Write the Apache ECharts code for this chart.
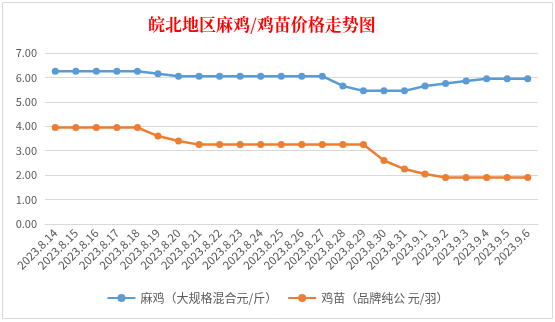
<!DOCTYPE html>
<html><head><meta charset="utf-8">
<script src="https://cdn.jsdelivr.net/npm/echarts@6/dist/echarts.min.js"></script>
<style>html,body{margin:0;padding:0;background:#fff}#c{width:555px;height:322px}</style>
</head><body><div id="c"></div>
<script>
const categories = ['2023.8.14','2023.8.15','2023.8.16','2023.8.17','2023.8.18','2023.8.19','2023.8.20','2023.8.21','2023.8.22','2023.8.23','2023.8.24','2023.8.25','2023.8.26','2023.8.27','2023.8.28','2023.8.29','2023.8.30','2023.8.31','2023.9.1','2023.9.2','2023.9.3','2023.9.4','2023.9.5','2023.9.6'];
const majiPrice = [6.25,6.25,6.25,6.25,6.25,6.15,6.05,6.05,6.05,6.05,6.05,6.05,6.05,6.05,5.65,5.45,5.45,5.45,5.65,5.75,5.85,5.95,5.95,5.95];
const jimiaoPrice = [3.95,3.95,3.95,3.95,3.95,3.6,3.4,3.25,3.25,3.25,3.25,3.25,3.25,3.25,3.25,3.25,2.6,2.25,2.05,1.9,1.9,1.9,1.9,1.9];
const seriesNames = ['麻鸡（大规格混合元/斤）','鸡苗（品牌纯公 元/羽）'];

const chart = echarts.init(document.getElementById('c'));
const font = '"Microsoft YaHei","Noto Sans CJK SC","Noto Sans",sans-serif';
chart.setOption({
  animation: false,
  backgroundColor: '#fff',
  title: {
    text: '皖北地区麻鸡/鸡苗价格走势图',
    left: 143, top: 11,
    textStyle: {color: '#ff0000', fontSize: 17, fontWeight: 'bold', fontFamily: '"Noto Serif CJK SC","Noto Sans CJK SC",serif'}
  },
  graphic: [{type:'rect', shape:{x:2.5,y:2.5,width:550,height:316}, style:{fill:'none',stroke:'#d9d9d9',lineWidth:1}, silent:true}],
  grid: {left: 45, right: 17, top: 53, bottom: 98},
  legend: {
    bottom: 13, left: 'center', itemWidth: 28, itemHeight: 10, itemGap: 10,
    textStyle: {color: '#595959', fontSize: 12, fontFamily: font},
    data: seriesNames
  },
  xAxis: {
    type: 'category', data: categories, boundaryGap: true,
    axisLine: {show: true, lineStyle: {color: '#d9d9d9'}},
    axisTick: {show: false},
    axisLabel: {rotate: 45, interval: 0, color: '#595959', fontSize: 11.5, fontFamily: font, margin: 7}
  },
  yAxis: {
    type: 'value', min: 0, max: 7, interval: 1,
    axisLine: {show: false}, axisTick: {show: false},
    axisLabel: {color: '#595959', fontSize: 11, fontFamily: font, margin: 8, formatter: v => v.toFixed(2)},
    splitLine: {lineStyle: {color: '#d9d9d9'}}
  },
  series: [
    {name: seriesNames[0], type: 'line', data: majiPrice, symbol: 'circle', symbolSize: 7,
     lineStyle: {color: '#5b9bd5', width: 2.5}, itemStyle: {color: '#5b9bd5'}},
    {name: seriesNames[1], type: 'line', data: jimiaoPrice, symbol: 'circle', symbolSize: 7,
     lineStyle: {color: '#ed7d31', width: 2.5}, itemStyle: {color: '#ed7d31'}}
  ]
});
</script></body></html>
